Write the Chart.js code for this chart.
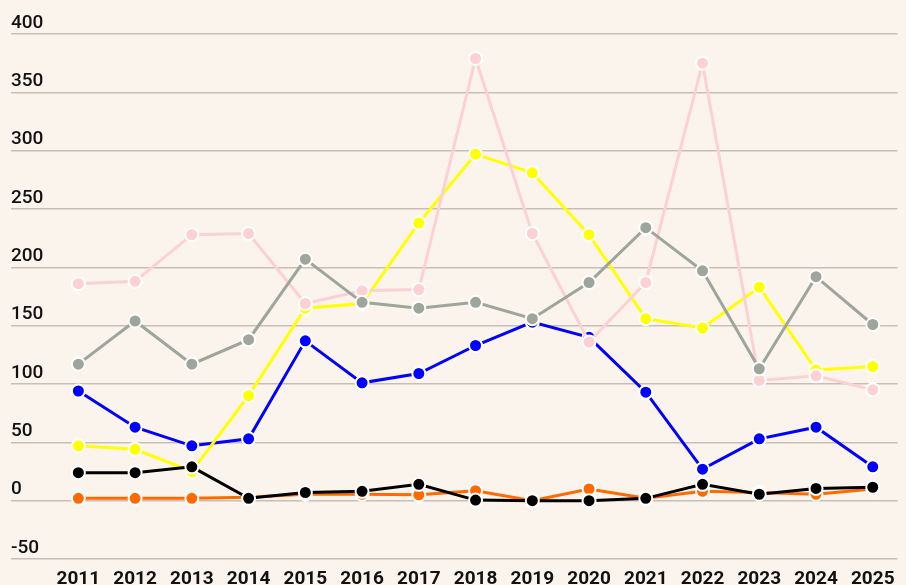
<!DOCTYPE html>
<html>
<head>
<meta charset="utf-8">
<script src="https://cdn.jsdelivr.net/npm/chart.js@4"></script>
<style>
  html, body { margin: 0; padding: 0; background: #fbf4ed; }
  #wrap { width: 906px; height: 585px; position: relative; }
</style>
</head>
<body>
<div id="wrap"><canvas id="c"></canvas></div>
<script>
const years = [2011, 2012, 2013, 2014, 2015, 2016, 2017, 2018, 2019, 2020, 2021, 2022, 2023, 2024, 2025];
const yTicks = [-50, 0, 50, 100, 150, 200, 250, 300, 350, 400];

const blackSeries  = [24, 24, 29, 2, 7, 8, 14, 0.5, 0, 0, 2, 14, 5.5, 10.5, 11.5];
const orangeSeries = [2, 2, 2, 3, 5.5, 5.5, 5, 8.5, 0, 10, 2, 8, 7, 5.5, 10];
const graySeries   = [117, 154, 117, 138, 207, 170, 165, 170, 156, 187, 234, 197, 113, 192, 151];
const pinkSeries   = [186, 188, 228, 229, 169, 180, 181, 379, 229, 136, 187, 375, 103, 107, 95];
const yellowSeries = [47, 44, 25, 90, 165, 169, 238, 297, 281, 228, 156, 148, 183, 112, 115];
const blueSeries   = [94, 63, 47, 53, 137, 101, 109, 133, 153, 140, 93, 27, 53, 63, 29];

const toPts = arr => arr.map((v, i) => ({ x: years[i], y: v }));

function ds(data, color, width) {
  return {
    data: toPts(data),
    borderColor: color,
    backgroundColor: color,
    borderWidth: width,
    pointRadius: 6.5,
    pointHoverRadius: 6.5,
    pointBorderColor: '#ffffff',
    pointBorderWidth: 2,
    pointBackgroundColor: color,
    tension: 0,
    fill: false
  };
}

new Chart(document.getElementById('c'), {
  type: 'line',
  data: {
    datasets: [
      ds(blackSeries, '#000000', 3),
      ds(orangeSeries, '#ff6a00', 3),
      ds(graySeries, '#9ea59a', 3),
      ds(pinkSeries, '#fdd0d3', 3),
      ds(yellowSeries, '#ffff00', 3),
      ds(blueSeries, '#0000ff', 3)
    ]
  },
  options: {
    responsive: true,
    maintainAspectRatio: false,
    animation: false,
    layout: { padding: { left: 11, right: 0, top: 34, bottom: 0 } },
    plugins: { legend: { display: false }, tooltip: { enabled: false } },
    scales: {
      x: {
        type: 'linear',
        min: 2009.813,
        max: 2025.436,
        afterBuildTicks: s => { s.ticks = years.map(v => ({ value: v })); },
        afterFit: s => { s.height = 26; },
        grid: { display: false, drawTicks: false },
        border: { display: false },
        ticks: {
          autoSkip: false,
          maxRotation: 0,
          padding: 9,
          color: '#111111',
          font: { family: 'Roboto', size: 19, weight: 'bold' },
          callback: v => String(v)
        }
      },
      y: {
        min: -50,
        max: 400,
        afterBuildTicks: s => { s.ticks = yTicks.map(v => ({ value: v })); },
        afterFit: s => { s.width = 0; },
        grid: { color: '#c6bfb7', lineWidth: 1.5, drawTicks: false },
        border: { display: false },
        ticks: {
          mirror: true,
          padding: 0,
          labelOffset: -11,
          color: '#111111',
          font: { family: 'Roboto', size: 19, weight: '500' },
          callback: v => String(v)
        }
      }
    }
  }
});
</script>
</body>
</html>
